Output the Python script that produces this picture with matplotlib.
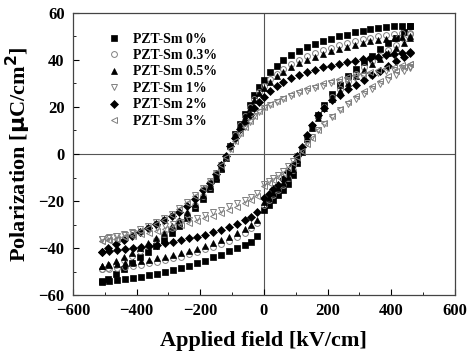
import matplotlib
matplotlib.use("Agg")
import matplotlib.pyplot as plt

# field grids (kV/cm): descending branch and ascending branch
E_down = [460, 435, 410, 385, 360, 335, 310, 285, 260, 235, 210, 185, 160, 135, 110,
          85, 60, 40, 20, 0, -15, -30, -45, -60, -75, -90, -105, -120, -135, -150,
          -170, -190, -215, -240, -265, -290, -315, -340, -365, -390, -415, -440, -465, -490, -510]
E_up = [-510, -485, -460, -435, -410, -385, -360, -335, -310, -285, -260, -235, -210, -185, -160,
        -135, -110, -85, -60, -40, -20, 0, 15, 30, 45, 60, 75, 90, 105, 120, 135, 150,
        170, 190, 215, 240, 265, 290, 315, 340, 365, 390, 415, 440, 460]

# polarization (uC/cm2)
p0_down = [54.6, 54.5, 54.4, 54.2, 53.7, 53.2, 52.5, 51.8, 50.8, 50.0, 49.0, 48.0, 46.9, 45.6, 44.0,
           42.0, 39.8, 37.5, 34.8, 31.5, 28.5, 25.0, 21.0, 17.0, 12.8, 8.5, 3.5, -1.5, -6.5, -10.5,
           -15.0, -19.0, -23.0, -27.0, -30.5, -33.5, -36.5, -39.0, -41.5, -44.0, -46.5, -49.0, -51.0, -53.0, -54.0]
p0_up = [-54.3, -54.0, -53.6, -53.2, -52.8, -52.2, -51.6, -50.9, -50.2, -49.4, -48.5, -47.5, -46.5, -45.3, -44.0,
         -42.8, -41.3, -39.8, -38.6, -37.3, -35.0, -24.0, -21.5, -19.5, -17.5, -15.2, -12.8, -9.0, -4.0, 1.0, 6.5, 11.5,
         16.5, 21.0, 25.5, 29.5, 33.0, 36.0, 39.0, 41.8, 44.5, 47.0, 49.5, 52.0, 54.3]

p03_down = [51.5, 51.3, 51.0, 50.6, 50.1, 49.5, 48.8, 48.0, 47.1, 46.2, 45.2, 44.1, 42.9, 41.6, 40.0,
            38.2, 36.2, 34.2, 31.8, 29.0, 26.5, 23.5, 20.0, 16.3, 12.3, 8.0, 3.5, -1.2, -5.8, -9.8,
            -14.0, -17.8, -21.8, -25.3, -28.5, -31.5, -34.2, -36.7, -39.0, -41.2, -43.3, -45.2, -47.0, -48.3, -49.0]
p03_up = [-49.0, -48.7, -48.4, -48.0, -47.6, -47.1, -46.5, -45.9, -45.2, -44.4, -43.6, -42.7, -41.7, -40.6, -39.5,
          -38.2, -36.8, -35.2, -33.4, -31.6, -29.5, -21.5, -19.5, -17.5, -15.3, -13.0, -10.3, -6.8, -2.5, 2.0, 6.5, 11.0,
          15.8, 20.0, 24.2, 27.8, 31.0, 34.0, 36.8, 39.4, 41.8, 44.2, 46.5, 48.8, 51.0]

p05_down = [50.0, 49.8, 49.5, 49.1, 48.6, 48.0, 47.3, 46.5, 45.6, 44.7, 43.7, 42.6, 41.4, 40.1, 38.6,
            36.9, 35.0, 33.1, 30.8, 28.2, 25.8, 22.9, 19.5, 15.9, 12.0, 7.8, 3.3, -1.3, -5.8, -9.7,
            -13.8, -17.5, -21.4, -24.8, -27.9, -30.8, -33.4, -35.8, -38.0, -40.1, -42.0, -43.8, -45.4, -46.7, -47.5]
p05_up = [-47.5, -47.2, -46.9, -46.5, -46.1, -45.6, -45.0, -44.4, -43.7, -42.9, -42.1, -41.2, -40.2, -39.1, -38.0,
          -36.7, -35.3, -33.7, -31.9, -30.1, -28.0, -20.5, -18.6, -16.7, -14.6, -12.3, -9.7, -6.3, -2.2, 2.2, 6.6, 10.9,
          15.5, 19.5, 23.5, 27.0, 30.1, 33.0, 35.7, 38.2, 40.6, 42.9, 45.1, 47.3, 49.2]

p1_down = [37.2, 36.5, 35.8, 35.1, 34.5, 33.8, 33.1, 32.4, 31.6, 30.8, 30.0, 29.1, 28.1, 27.0, 25.9,
           24.7, 23.3, 22.1, 20.8, 19.5, 17.9, 16.0, 13.8, 11.3, 8.5, 5.4, 2.0, -1.5, -4.8, -7.9,
           -11.3, -14.3, -17.6, -20.5, -23.0, -25.3, -27.3, -29.1, -30.6, -32.0, -33.2, -34.2, -35.0, -35.6, -36.0]
p1_up = [-36.0, -35.5, -35.0, -34.4, -33.8, -33.1, -32.4, -31.6, -30.8, -29.9, -29.0, -28.0, -27.0, -26.0, -24.8,
         -23.6, -22.3, -21.0, -19.5, -18.2, -16.7, -12.8, -11.6, -10.3, -8.8, -7.1, -5.2, -3.1, -0.7, 1.9, 4.5, 7.1,
         10.0, 12.8, 15.8, 18.6, 21.1, 23.4, 25.6, 27.7, 29.7, 31.6, 33.4, 35.1, 36.6]

p2_down = [43.3, 42.9, 42.4, 41.9, 41.4, 40.9, 40.3, 39.7, 39.1, 38.4, 37.6, 36.8, 35.9, 34.9, 33.7,
           32.3, 30.5, 28.8, 26.8, 24.3, 22.0, 19.5, 16.7, 13.7, 10.5, 7.0, 3.2, -0.8, -4.8, -8.5,
           -12.3, -15.5, -19.0, -22.0, -24.5, -26.5, -28.2, -29.8, -31.4, -33.1, -34.9, -36.7, -38.4, -40.1, -41.6]
p2_up = [-41.6, -41.2, -40.8, -40.4, -40.0, -39.5, -39.0, -38.5, -37.9, -37.3, -36.6, -35.9, -35.1, -34.3, -33.3,
         -32.2, -31.0, -29.6, -28.0, -26.6, -24.8, -18.5, -16.8, -15.0, -13.0, -10.6, -7.8, -4.8, -1.0, 3.0, 8.0, 12.5,
         16.5, 19.6, 22.8, 25.3, 27.5, 29.5, 31.5, 33.5, 35.5, 37.6, 39.5, 41.3, 42.8]

p3_down = [38.4, 37.8, 37.1, 36.4, 35.7, 35.0, 34.2, 33.4, 32.6, 31.8, 30.9, 30.0, 29.0, 27.9, 26.7,
           25.4, 24.0, 22.7, 21.3, 19.8, 18.2, 16.3, 14.1, 11.6, 8.8, 5.7, 2.3, -1.2, -4.6, -7.8,
           -11.3, -14.4, -17.8, -20.8, -23.4, -25.8, -27.9, -29.8, -31.4, -32.8, -34.1, -35.2, -36.0, -36.6, -37.0]
p3_up = [-37.0, -36.5, -36.0, -35.4, -34.8, -34.2, -33.5, -32.8, -32.0, -31.2, -30.3, -29.4, -28.4, -27.4, -26.3,
         -25.1, -23.8, -22.4, -20.9, -19.5, -17.9, -13.8, -12.5, -11.2, -9.7, -8.0, -6.0, -3.8, -1.3, 1.4, 4.2, 7.0,
         10.1, 13.1, 16.3, 19.3, 22.0, 24.5, 26.9, 29.1, 31.2, 33.2, 35.1, 36.8, 38.2]

labels = ["PZT-Sm 0%", "PZT-Sm 0.3%", "PZT-Sm 0.5%", "PZT-Sm 1%", "PZT-Sm 2%", "PZT-Sm 3%"]
series = [(p0_down, p0_up), (p03_down, p03_up), (p05_down, p05_up),
          (p1_down, p1_up), (p2_down, p2_up), (p3_down, p3_up)]
markers = ["s", "o", "^", "v", "D", "<"]
filled = [True, False, True, False, True, False]

plt.rcParams["font.family"] = ["Liberation Serif", "DejaVu Serif"]
plt.rcParams["font.weight"] = "bold"

fig = plt.figure(figsize=(4.67, 3.59), dpi=100)
ax = fig.add_axes([0.156, 0.178, 0.818, 0.786])

ax.axhline(0, color="#555555", lw=0.8, zorder=1)
ax.axvline(0, color="#555555", lw=0.8, zorder=1)

for (pd, pu), lab, m, f in zip(series, labels, markers, filled):
    ms = 3.8 if m == "D" else 4.2
    kw = dict(ls="none", marker=m, ms=ms, zorder=3)
    if f:
        kw.update(mfc="black", mec="black", mew=0.5)
    else:
        kw.update(mfc="none", mec="#808080", mew=0.7)
    ax.plot(E_down + E_up, pd + pu, label=lab, **kw)

ax.set_xlim(-600, 600)
ax.set_ylim(-60, 60)
ax.set_xticks(range(-600, 601, 200))
ax.set_xticks(range(-500, 601, 200), minor=True)
ax.set_yticks(range(-60, 61, 20))
ax.set_yticks(range(-50, 51, 20), minor=True)
ax.tick_params(which="both", direction="in", top=False, right=False, labelsize=12, pad=6)
ax.tick_params(which="major", length=4)
ax.tick_params(which="minor", length=2)
for s in ax.spines.values():
    s.set_color("#444444")
    s.set_linewidth(0.9)

ax.set_xlabel("Applied field [kV/cm]", fontsize=16, fontweight="bold", labelpad=8)
ax.set_ylabel(r"Polarization [$\mathbf{\mu}$C/cm$^\mathbf{2}$]", fontsize=16, fontweight="bold", labelpad=4)

ax.legend(loc="upper left", bbox_to_anchor=(0.06, 0.97), frameon=False, fontsize=10,
          handlelength=1.0, handletextpad=0.9, labelspacing=0.25, borderpad=0.3)

fig.savefig("out.png", dpi=100)
